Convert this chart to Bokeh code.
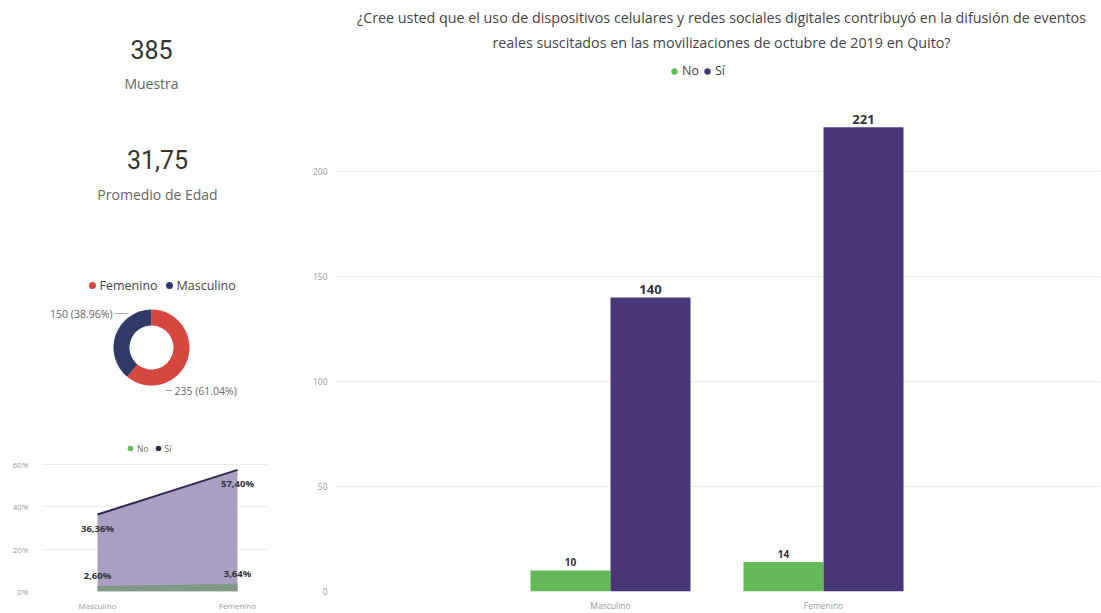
import numpy as np
from bokeh.plotting import figure
from bokeh.models import (ColumnDataSource, Range1d, FixedTicker, Legend, LegendItem,
                          PrintfTickFormatter)
from bokeh.layouts import row, column
from bokeh.embed import file_html
from bokeh.resources import INLINE
from bokeh.core.properties import value

# ---------------- data ----------------
kpi_values = ["385", "31,75"]
kpi_labels = ["Muestra", "Promedio de Edad"]

genders = ["Femenino", "Masculino"]
gender_counts = [235, 150]

categories = ["Masculino", "Femenino"]
series = ["No", "Sí"]
no_counts = [10, 14]
si_counts = [140, 221]
main_y_ticks = [0, 50, 100, 150, 200]

no_pct = [2.60, 3.64]
si_pct = [36.36, 57.40]
area_y_ticks = [0, 20, 40, 60]

title_lines = [
    "¿Cree usted que el uso de dispositivos celulares y redes sociales digitales contribuyó en la difusión de eventos",
    "reales suscitados en las movilizaciones de octubre de 2019 en Quito?",
]

# ---------------- style ----------------
FONT = "Open Sans"
GREEN = "#63ba57"
PURPLE = "#483679"
RED = "#d6473f"
NAVY = "#2f3a68"
SI_AREA = "#aa9ec3"
NO_AREA = "#7f9b86"
SI_LINE = "#2e2a4f"
DARK = "#333333"
GREY = "#666666"
LIGHT = "#9a9a9a"
GRID = "#ececec"

# left column frame (shared by all three left panels)
L_W = 300
L_FRAME_L, L_FRAME_R = 42, 268


def fmt_pct(v):
    return f"{v:.2f}".replace(".", ",") + "%"


def blank_fig(h):
    # data x == canvas pixel x; data y == pixels from bottom
    f = figure(width=L_W, height=h, x_range=Range1d(L_FRAME_L, L_FRAME_R), y_range=Range1d(0, h),
               output_backend="svg", toolbar_location=None, title=None,
               min_border_left=L_FRAME_L, min_border_right=L_W - L_FRAME_R,
               min_border_top=0, min_border_bottom=0,
               x_axis_location=None, y_axis_location=None)
    f.grid.visible = False
    f.outline_line_color = None
    return f


# ================= KPI cards =================
kh = 255
kpi = blank_fig(kh)
kpi_x = [151, 157]
val_y = [kh - 49, kh - 159]
lab_y = [kh - 83, kh - 194]
kpi.text(x=kpi_x, y=val_y, text=kpi_values, text_font=value("Roboto"),
         text_font_size="25px", text_color=DARK, text_align="center", text_baseline="middle")
kpi.text(x=kpi_x, y=lab_y, text=kpi_labels, text_font=value(FONT),
         text_font_size="14px", text_color=GREY, text_align="center", text_baseline="middle")

# ================= Donut =================
dh = 155
donut = blank_fig(dh)
counts = np.array(gender_counts, dtype=float)
fr = counts / counts.sum()
ends = np.pi / 2 - 2 * np.pi * np.cumsum(fr)
starts = np.concatenate([[np.pi / 2], ends[:-1]])
dsrc = ColumnDataSource(dict(start=starts, end=ends, color=[RED, NAVY], label=genders))
cx, cy = 151, dh - 92
donut.annular_wedge(x=cx, y=cy, inner_radius=22, outer_radius=38,
                    inner_radius_units="screen", outer_radius_units="screen",
                    start_angle="start", end_angle="end", direction="clock",
                    color="color", source=dsrc, line_color=None)
# legend row (dots + labels)
leg_src = ColumnDataSource(dict(dot_x=[92, 169], txt_x=[99, 176], y=[dh - 30, dh - 30],
                                color=[RED, NAVY], label=genders))
donut.scatter(x="dot_x", y="y", source=leg_src, marker="circle", size=7, color="color", line_color=None)
donut.text(x="txt_x", y="y", text="label", source=leg_src, text_font=value(FONT),
           text_font_size="12.5px", text_color="#444444", text_align="left", text_baseline="middle")
d_labels = [f"{c} ({p:.2f}%)" for c, p in zip(gender_counts, fr * 100)]
# Masculino label (upper left), Femenino label (lower right)
donut.text(x=[112], y=[dh - 58], text=[d_labels[1]], text_font=value(FONT), text_font_size="10.5px",
           text_color=GREY, text_align="right", text_baseline="middle")
donut.segment(x0=[114], y0=[dh - 58], x1=[128], y1=[dh - 58], line_color="#aaaaaa", line_width=1)
donut.text(x=[174], y=[dh - 135], text=[d_labels[0]], text_font=value(FONT), text_font_size="10.5px",
           text_color=GREY, text_align="left", text_baseline="middle")
donut.segment(x0=[165], y0=[dh - 135], x1=[172], y1=[dh - 135], line_color="#aaaaaa", line_width=1)

# ================= Area chart =================
ah = 203
a_px_unit = 140.0
a_px_pct = 2.2
a_frame_h = ah - 15
area = figure(width=L_W, height=ah,
              x_range=Range1d(-(97 - L_FRAME_L) / a_px_unit, 1 + (L_FRAME_R - 237) / a_px_unit),
              y_range=Range1d(0, a_frame_h / a_px_pct),
              output_backend="svg", toolbar_location=None, title=None,
              min_border_left=L_FRAME_L, min_border_right=L_W - L_FRAME_R, min_border_top=0,
              min_border_bottom=15)
area.outline_line_color = None
ax = np.arange(len(categories))
asrc = ColumnDataSource(dict(x=ax, no=no_pct, si=si_pct,
                             no_lab=[fmt_pct(v) for v in no_pct],
                             si_lab=[fmt_pct(v) for v in si_pct]))
area.varea(x="x", y1=0, y2="si", source=asrc, fill_color=SI_AREA)
area.varea(x="x", y1=0, y2="no", source=asrc, fill_color=NO_AREA)
area.line(x="x", y="si", source=asrc, line_color=SI_LINE, line_width=2)
area.text(x="x", y="si", text="si_lab", source=asrc, y_offset=14, text_font=value(FONT),
          text_font_size="9.5px", text_font_style="bold", text_color=DARK,
          text_align="center", text_baseline="middle")
area.text(x="x", y="no", text="no_lab", source=asrc, y_offset=-10, text_font=value(FONT),
          text_font_size="9.5px", text_font_style="bold", text_color=DARK,
          text_align="center", text_baseline="middle")
area.xaxis.ticker = FixedTicker(ticks=list(ax))
area.xaxis.major_label_overrides = {int(i): c for i, c in zip(ax, categories)}
area.yaxis.ticker = FixedTicker(ticks=area_y_ticks)
area.yaxis.formatter = PrintfTickFormatter(format="%d%%")
for axis in (area.xaxis, area.yaxis):
    axis.axis_line_color = None
    axis.major_tick_line_color = None
    axis.minor_tick_line_color = None
    axis.major_label_text_font = FONT
    axis.major_label_text_font_size = "8px"
    axis.major_label_text_color = LIGHT
area.xaxis.major_label_standoff = 2
area.yaxis.major_label_standoff = 8
area.xgrid.visible = False
area.ygrid.grid_line_color = GRID
a_leg_r = [area.scatter(x="x", y="no", source=asrc, marker="circle", size=0, color=c, line_color=None)
           for c in [GREEN, SI_LINE]]
a_legend = Legend(items=[LegendItem(label=s, renderers=[r]) for s, r in zip(series, a_leg_r)],
                  orientation="horizontal", location=(81, 136),
                  label_text_font=FONT, label_text_font_size="8.5px", label_text_color=GREY,
                  glyph_width=14, glyph_height=14, label_standoff=-2, spacing=2,
                  padding=2, background_fill_alpha=0, border_line_color=None, margin=0,
                  label_height=14, label_width=0)
area.add_layout(a_legend)

# ================= Main bar chart =================
mw, mh = 801, 613
m_left = 35
frame_left_abs = 300 + m_left
frame_right_abs = 1100
m_px_unit = 213.0
m_px_val = 2.125
m_frame_h = 598
x0_abs = 610
main = figure(width=mw, height=mh,
              x_range=Range1d(-(x0_abs - frame_left_abs) / m_px_unit,
                              1 + (frame_right_abs - (x0_abs + m_px_unit)) / m_px_unit),
              y_range=Range1d(0, m_frame_h / m_px_val),
              output_backend="svg", toolbar_location=None, title=None,
              min_border_left=m_left, min_border_right=mw - (frame_right_abs - 300),
              min_border_top=0, min_border_bottom=mh - m_frame_h)
main.outline_line_color = None
mx = np.arange(len(categories))
bw = 80 / m_px_unit
msrc = ColumnDataSource(dict(x_no=mx - bw / 2, x_si=mx + bw / 2, no=no_counts, si=si_counts,
                             no_lab=[str(v) for v in no_counts], si_lab=[str(v) for v in si_counts]))
main.vbar(x="x_no", top="no", width=bw, source=msrc, fill_color=GREEN, line_color=None)
main.vbar(x="x_si", top="si", width=bw, source=msrc, fill_color=PURPLE, line_color=None)
main.text(x="x_no", y="no", text="no_lab", source=msrc, y_offset=-4, text_font=value(FONT),
          text_font_size="10px", text_font_style="bold", text_color=DARK,
          text_align="center", text_baseline="bottom")
main.text(x="x_si", y="si", text="si_lab", source=msrc, y_offset=-3, text_font=value(FONT),
          text_font_size="13px", text_font_style="bold", text_color=DARK,
          text_align="center", text_baseline="bottom")
main.xaxis.ticker = FixedTicker(ticks=list(mx))
main.xaxis.major_label_overrides = {int(i): c for i, c in zip(mx, categories)}
main.yaxis.ticker = FixedTicker(ticks=main_y_ticks)
for axis in (main.xaxis, main.yaxis):
    axis.axis_line_color = None
    axis.major_tick_line_color = None
    axis.minor_tick_line_color = None
    axis.major_label_text_font = FONT
    axis.major_label_text_font_size = "8.5px"
    axis.major_label_text_color = LIGHT
main.xaxis.major_label_standoff = 2
main.yaxis.major_label_standoff = 2
main.xgrid.visible = False
main.ygrid.grid_line_color = GRID

# title lines (positioned in screen pixels converted to data units)
title_cx = (721 - x0_abs) / m_px_unit
title_y = [(m_frame_h - 17) / m_px_val, (m_frame_h - 42) / m_px_val]
main.text(x=[title_cx] * 2, y=title_y, text=title_lines, text_font=value(FONT),
          text_font_size="14.3px", text_color="#444444", text_align="center", text_baseline="middle")

m_leg_r = [main.scatter(x="x_no", y="no", source=msrc, marker="circle", size=0, color=c, line_color=None)
           for c in [GREEN, PURPLE]]
m_legend = Legend(items=[LegendItem(label=s, renderers=[r]) for s, r in zip(series, m_leg_r)],
                  orientation="horizontal", location=(331, m_frame_h - 86),
                  label_text_font=FONT, label_text_font_size="12.5px", label_text_color="#444444",
                  glyph_width=16, glyph_height=16, label_standoff=-3, spacing=-5,
                  padding=2, background_fill_alpha=0, border_line_color=None, margin=0,
                  label_height=16, label_width=0)
main.add_layout(m_legend)

layout = row(column(kpi, donut, area, spacing=0), main, spacing=0)

open("out.html", "w").write(file_html(layout, INLINE))
